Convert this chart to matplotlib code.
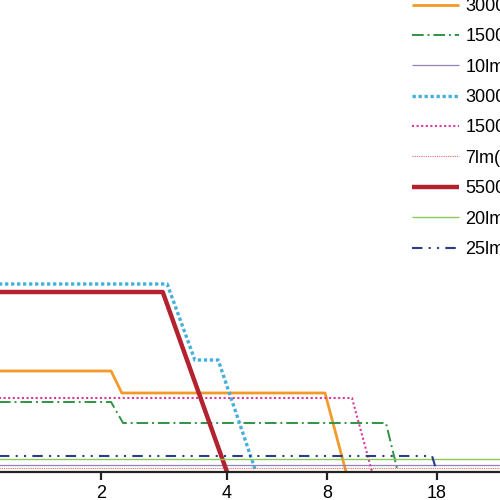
import numpy as np
import matplotlib
matplotlib.use("Agg")
import matplotlib.pyplot as plt

plt.rcParams["font.family"] = ["Liberation Sans", "DejaVu Sans"]

# ---- data (hours, relative output) ----
labels = ["3000", "1500", "10lm", "3000", "1500", "7lm(", "5500", "20lm", "25lm"]

orange_x = [0, 2.16, 2.33, 7.92, 9.73]
orange_y = [101, 101, 79, 79, 0]
green_x = [0, 2.16, 2.35, 13.36, 14.45]
green_y = [70, 70, 49, 49, 0]
purple_x = [0, 30]
purple_y = [7, 7]
blue_x = [0, 3.05, 3.49, 3.86, 5.16]
blue_y = [188, 188, 112, 112, 0]
magenta_x = [0, 10.27, 12.1]
magenta_y = [74, 74, 0]
pink_x = [0, 30]
pink_y = [4, 4]
red_x = [0, 2.98, 4.0]
red_y = [180, 180, 0]
lgreen_x = [0, 30]
lgreen_y = [13, 13]
navy_x = [0, 17.55, 18.0]
navy_y = [16, 16, 0]

xticks = [2, 4, 8, 18]
xtick_labels = ["2", "4", "8", "18"]

# ---- piecewise axis scale ----
KNOT_H = [0, 2, 4, 8, 18, 30]
KNOT_P = [-25, 101, 227, 327, 437, 569]

def fwd(h):
    return np.interp(h, KNOT_H, KNOT_P)

def inv(p):
    return np.interp(p, KNOT_P, KNOT_H)

fig = plt.figure(figsize=(5, 5), dpi=100)
ax = fig.add_axes([0, 1 - 472 / 500, 1, 472 / 500])
ax.set_xscale("function", functions=(fwd, inv))

series = [
    (orange_x, orange_y, dict(color="#F39A2B", lw=2.0, ls="-")),
    (green_x, green_y, dict(color="#2E9444", lw=1.4, ls=(0, (6, 2, 1, 2)))),
    (purple_x, purple_y, dict(color="#9580B8", lw=0.9, ls="-")),
    (blue_x, blue_y, dict(color="#45B0DA", lw=2.4, ls=(0, (1, 0.8)))),
    (magenta_x, magenta_y, dict(color="#D8399A", lw=1.5, ls=(0, (1, 1.2)))),
    (pink_x, pink_y, dict(color="#E06A6A", lw=0.8, ls=(0, (1, 1)))),
    (red_x, red_y, dict(color="#B3222F", lw=3.2, ls="-")),
    (lgreen_x, lgreen_y, dict(color="#8EC85B", lw=1.0, ls="-")),
    (navy_x, navy_y, dict(color="#2A3C8A", lw=1.5, ls=(0, (5, 3, 1, 3, 1, 3)))),
]
for (xs, ys, st), lab in zip(series, labels):
    ax.plot(xs, ys, label=lab, solid_capstyle="butt", **st)

ax.set_xlim(inv(0), inv(500))
ax.set_ylim(0, 472)
for s in ["top", "right", "left"]:
    ax.spines[s].set_visible(False)
ax.spines["bottom"].set_linewidth(1.6)
ax.spines["bottom"].set_color("#222222")
ax.set_yticks([])
ax.set_xticks(xticks)
ax.set_xticklabels(xtick_labels)
ax.xaxis.set_minor_locator(matplotlib.ticker.NullLocator())
ax.tick_params(axis="x", direction="out", length=6, width=1.6, color="#222222",
               labelsize=13, pad=3)

leg = fig.legend(loc="upper left", bbox_to_anchor=(412 / 500, 1.004), frameon=False,
                 fontsize=13, handlelength=2.6, handletextpad=0.35, labelspacing=0.74,
                 borderaxespad=0, borderpad=0)

fig.savefig("out.png", dpi=100)
